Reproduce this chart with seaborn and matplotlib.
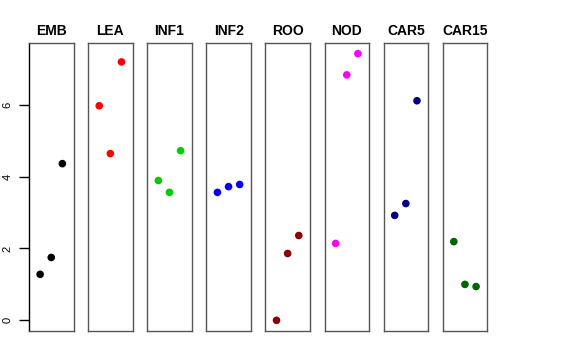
import numpy as np
import matplotlib
matplotlib.use("Agg")
import matplotlib.pyplot as plt
import seaborn as sns
import pandas as pd

# tissues and their colours
tissues = ["EMB", "LEA", "INF1", "INF2", "ROO", "NOD", "CAR5", "CAR15"]
colors = ["black", "red", "#00CD00", "blue", "#8B0000", "magenta", "#000080", "#006400"]

# three replicate values per tissue
emb = [1.28, 1.75, 4.36]
lea = [5.97, 4.64, 7.19]
inf1 = [3.89, 3.56, 4.72]
inf2 = [3.56, 3.72, 3.78]
roo = [0.0, 1.86, 2.36]
nod = [2.14, 6.83, 7.42]
car5 = [2.92, 3.25, 6.11]
car15 = [2.19, 1.00, 0.94]
values = [emb, lea, inf1, inf2, roo, nod, car5, car15]
replicate = [1, 2, 3]

sns.set_style("white")
plt.rcParams['font.family'] = ['Liberation Sans', 'DejaVu Sans']
plt.rcParams['text.color'] = 'black'
plt.rcParams['ytick.color'] = 'black'

fig = plt.figure(figsize=(5.76, 3.6), dpi=100)

W, H = 576, 360
ymax = max(max(v) for v in values)
pad = 0.04 * ymax

for i, (name, col, vals) in enumerate(zip(tissues, colors, values)):
    left = 29 + i * 59.1
    ax = fig.add_axes([left / W, (H - 331) / H, 44.5 / W, 288 / H])
    df = pd.DataFrame({"rep": replicate, "value": vals})
    sns.scatterplot(data=df, x="rep", y="value", color=col, s=30,
                    edgecolor="none", ax=ax, legend=False)
    ax.set_xlim(0, 4)
    ax.set_ylim(-pad, ymax + pad)
    ax.set_xticks([])
    ax.set_xlabel("")
    ax.set_ylabel("")
    ax.set_title(name, fontsize=10, fontweight="bold", pad=6, color="black")
    for sp in ax.spines.values():
        sp.set_visible(True)
        sp.set_color("#555555")
        sp.set_linewidth(1)
    if i == 0:
        ax.spines["left"].set_color("black")
        ax.set_yticks([0, 2, 4, 6])
        ax.tick_params(axis="y", left=True, length=7, width=1, labelsize=8, pad=5,
                       labelrotation=90, colors="black")
        for lab in ax.get_yticklabels():
            lab.set_verticalalignment("center")
    else:
        ax.set_yticks([])

fig.savefig("out.png", dpi=100)
